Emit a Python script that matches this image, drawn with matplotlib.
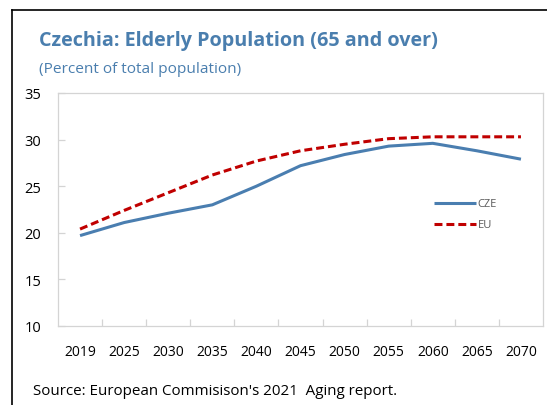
import matplotlib
matplotlib.use("Agg")
import matplotlib.pyplot as plt
from matplotlib.lines import Line2D
import numpy as np

plt.rcParams['font.family'] = ['Open Sans', 'DejaVu Sans']

years = ["2019", "2025", "2030", "2035", "2040", "2045", "2050", "2055", "2060", "2065", "2070"]
cze = [19.7, 21.1, 22.1, 23.0, 25.0, 27.2, 28.4, 29.3, 29.6, 28.8, 27.9]
eu = [20.4, 22.4, 24.3, 26.2, 27.7, 28.8, 29.5, 30.1, 30.3, 30.3, 30.3]

W, H = 547, 406
fig = plt.figure(figsize=(W / 100, H / 100), dpi=100)
fig.patch.set_facecolor("white")

# axes box: left 58, right 543, top 94, bottom 327 (pixels)
ax = fig.add_axes([58 / W, 1 - 327 / H, (543 - 58) / W, (327 - 94) / H])

x = np.arange(len(years))
ax.plot(x, cze, color="#4A7EB0", lw=2.2, label="CZE", solid_capstyle="butt")
ax.plot(x, eu, color="#C00000", lw=2.2, ls=(0, (2.6, 1.3)), label="EU")

ax.set_xlim(-0.5, len(years) - 0.5)
ax.set_ylim(10, 35)
ax.set_yticks([10, 15, 20, 25, 30, 35])
ax.set_xticks(x)
ax.set_xticklabels(years)
ax.set_xticks(np.arange(0.5, len(years) - 0.5, 1), minor=True)

for s in ax.spines.values():
    s.set_color("#D4D4D4")
    s.set_linewidth(0.9)

ax.tick_params(axis="x", which="major", length=0, labelsize=10, pad=13, colors="black")
ax.tick_params(axis="x", which="minor", length=5, direction="in", color="#D4D4D4", width=0.9)
ax.tick_params(axis="y", length=5, direction="in", color="#D4D4D4", width=0.9, labelsize=10.5, pad=12)

leg = ax.legend(loc="upper left", bbox_to_anchor=((430 - 58) / (543 - 58), (327 - 195) / (327 - 94)),
                frameon=False, handlelength=3.7, handletextpad=0.2, labelspacing=0.9,
                fontsize=8, labelcolor="#595959", borderaxespad=0)

fig.text(39 / W, 1 - 46 / H, "Czechia: Elderly Population (65 and over)", fontsize=14.2,
         fontweight="bold", color="#4A7EAE", va="baseline", ha="left")
fig.text(39 / W, 1 - 73 / H, "(Percent of total population)", fontsize=11.1,
         color="#4A7EAE", va="baseline", ha="left")
fig.text(33 / W, 1 - 395 / H, "Source: European Commisison's 2021  Aging report.", fontsize=10.9,
         color="black", va="baseline", ha="left")

# screenshot frame (left and top)
fig.add_artist(Line2D([11.5 / W, 11.5 / W], [0, 1 - 10.5 / H], color="black", lw=1.2))
fig.add_artist(Line2D([11.5 / W, 1], [1 - 10.5 / H, 1 - 10.5 / H], color="black", lw=1.2))

fig.savefig("out.png", dpi=100)
